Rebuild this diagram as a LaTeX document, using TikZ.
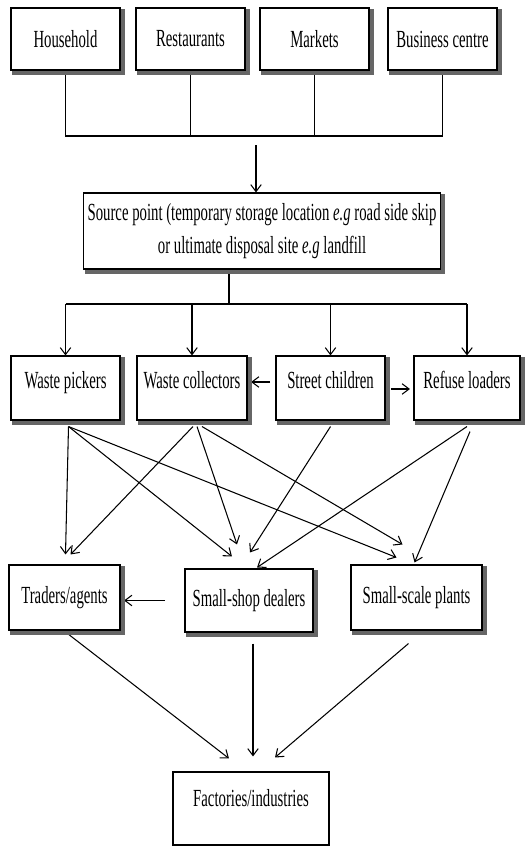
\documentclass[tikz,border=0pt]{standalone}
\usepackage{fontspec}
\setmainfont{Liberation Serif}[FakeStretch=0.6]
\usepackage{tikz}
\usetikzlibrary{arrows.meta}
\usetikzlibrary{calc}
\begin{document}
\begin{tikzpicture}[x=0.02cm,y=-0.02cm,
  font=\fontsize{14}{18.7}\selectfont,
  box/.style={draw,line width=0.6pt,fill=white,inner sep=2pt},
  boxshade/.style={fill=black!60},
  flow/.style={line width=0.6pt,-{Straight Barb[length=4pt,width=6pt]}},
  link/.style={line width=0.6pt}]
  \useasboundingbox (0,0) rectangle (525,848);

  % sources
  \node (hh) [box,minimum width=2.18cm,minimum height=1.24cm] at (65.5,39) {Household};
  \node (rest) [box,minimum width=2.18cm,minimum height=1.24cm] at (190.5,39) {Restaurants};
  \node (mkt) [box,minimum width=2.18cm,minimum height=1.24cm] at (314.5,39) {Markets};
  \node (bc) [box,minimum width=2.18cm,minimum height=1.24cm] at (442.5,39) {Business centre};
  \coordinate (jn) at (256,136);
  \draw[link] (hh.south) -- (hh.south |- jn) -- (bc.south |- jn) -- (bc.south);
  \draw[link] (rest.south) -- (rest.south |- jn);
  \draw[link] (mkt.south) -- (mkt.south |- jn);

  \node (src) [box,align=center,minimum width=7.16cm,minimum height=1.52cm] at (262,231)
    {Source point (temporary storage location \emph{e.g} road side skip\\
     or ultimate disposal site \emph{e.g} landfill};
  \draw[flow] ($(jn)+(0,9)$) -- (jn |- src.north);

  % handlers
  \node (wp) [box,text depth=.34cm,minimum width=2.18cm,minimum height=1.28cm] at (65.5,388) {Waste pickers};
  \node (wc) [box,text depth=.34cm,minimum width=2.2cm,minimum height=1.28cm] at (192,388) {Waste collectors};
  \node (sc) [box,text depth=.34cm,minimum width=2.18cm,minimum height=1.28cm] at (330.5,388) {Street children};
  \node (rl) [box,text depth=.34cm,minimum width=2.12cm,minimum height=1.28cm] at (467,388) {Refuse loaders};
  \coordinate (split) at (229,304);
  \draw[link] (src.south -| split) -- (split);
  \draw[link] (wp.north |- split) -- (rl.north |- split);
  \draw[flow] (wp.north |- split) -- (wp.north);
  \draw[flow] (wc.north |- split) -- (wc.north);
  \draw[flow] (sc.north |- split) -- (sc.north);
  \draw[flow] (rl.north |- split) -- (rl.north);
  \draw[flow,shorten <=3pt,shorten >=2pt] ($(sc.west)+(0,-6)$) -- ($(wc.east)+(0,-6)$);
  \draw[flow,shorten <=3pt,shorten >=2pt] ($(sc.east)+(0,1)$) -- ($(rl.west)+(0,1)$);

  % buyers
  \node (ta) [box,minimum width=2.22cm,minimum height=1.3cm] at (64.5,597.5) {Traders/agents};
  \node (ssd) [box,minimum width=2.56cm,minimum height=1.26cm] at (249,600.5) {Small-shop dealers};
  \node (ssp) [box,minimum width=2.62cm,minimum height=1.3cm] at (416.5,597.5) {Small-scale plants};
  \draw[flow] ($(wp.south)+(3,6)$) -- ($(ta.north)+(1,-10)$);
  \draw[flow] ($(wp.south)+(3,6)$) -- ($(ssd.north)+(-17,-12)$);
  \draw[flow] ($(wp.south)+(3,6)$) -- ($(ssp.north)+(-20,-7)$);
  \draw[flow] ($(wc.south)+(1,6)$) -- ($(ta.north)+(6,-10)$);
  \draw[flow] ($(wc.south)+(5,6)$) -- ($(ssd.north)+(-12,-24)$);
  \draw[flow] ($(wc.south)+(10,6)$) -- ($(ssp.north)+(-14,-20)$);
  \draw[flow] ($(sc.south)+(0,6)$) -- ($(ssd.north)+(1,-16)$);
  \draw[flow] ($(rl.south)+(0,6)$) -- ($(ssd.north)+(8,-1)$);
  \draw[flow] ($(rl.south)+(3,11)$) -- ($(ssp.north)+(-2,-2)$);
  \draw[flow,shorten <=11pt,shorten >=2pt] ($(ssd.west)+(0,0)$) -- ($(ta.east)+(0,3)$);

  % end users
  \node (fi) [box,text depth=.42cm,minimum width=3.12cm,minimum height=1.46cm] at (251,808.5) {Factories/industries};
  \draw[flow] ($(ta.south)+(3,3)$) -- ($(fi.north)+(-22,-13)$);
  \draw[flow] ($(ssd.south)+(4,11)$) -- ($(fi.north)+(2,-15)$);
  \draw[flow] ($(ssp.south)+(-8,13)$) -- ($(fi.north)+(24,-14)$);

  % box shadows, bottom and right edges
  \foreach \n in {hh,rest,mkt,bc,src,wp,wc,sc,rl,ta,ssd,ssp} {
    \fill[boxshade] ($(\n.south west)+(2,0)$) rectangle ($(\n.south east)+(4,4)$);
    \fill[boxshade] ($(\n.north east)+(0,2)$) rectangle ($(\n.south east)+(4,4)$);
  }
\end{tikzpicture}
\end{document}
